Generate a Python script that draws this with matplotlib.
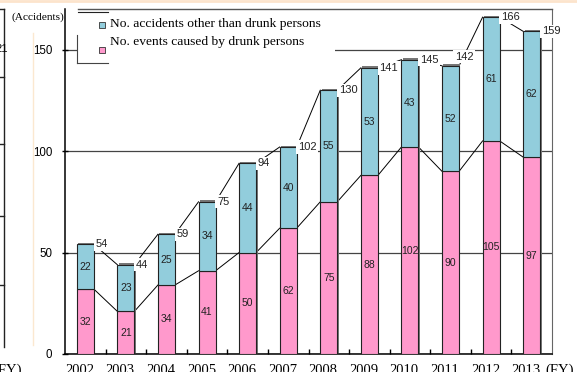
import numpy as np
import matplotlib.pyplot as plt
import matplotlib.patheffects as pe
from matplotlib.lines import Line2D
from matplotlib.patches import Rectangle
from matplotlib.transforms import ScaledTranslation

# data (FY 2002-2013)
years = ["2002", "2003", "2004", "2005", "2006", "2007",
         "2008", "2009", "2010", "2011", "2012", "2013"]
drunk = [32, 21, 34, 41, 50, 62, 75, 88, 102, 90, 105, 97]
other = [22, 23, 25, 34, 44, 40, 55, 53, 43, 52, 61, 62]
legend_labels = ["No. accidents other than drunk persons",
                 "No. events caused by drunk persons"]

blue = "#92CDDC"
pink = "#FF99CC"
SERIF = "Liberation Serif"
SANS = "Liberation Sans"

W, H = 577, 372
fig = plt.figure(figsize=(W / 100, H / 100), dpi=100)


def fx(x):
    return x / W


def fy(y):
    return 1 - y / H


def fline(xs, ys, **kw):
    fig.add_artist(Line2D([fx(v) for v in xs], [fy(v) for v in ys],
                          transform=fig.transFigure, **kw))


ax = fig.add_axes([fx(65), fy(354), fx(552) - fx(65), fy(9) - fy(354)])

x = np.arange(len(years))
w = 0.42
total = [d + o for d, o in zip(drunk, other)]
shadow = [pe.SimplePatchShadow(offset=(1.0, 1.0), shadow_rgbFace="#777777", alpha=1),
          pe.Normal()]

ax.bar(x, drunk, w, color=pink, edgecolor="#222222", lw=0.8, zorder=3,
       path_effects=shadow)
ax.bar(x, other, w, bottom=drunk, color=blue, edgecolor="#222222", lw=0.8,
       zorder=3, path_effects=shadow)

# series lines between the bars
for i in range(len(x) - 1):
    for tops in (drunk, total):
        ax.plot([x[i] + w / 2, x[i + 1] - w / 2], [tops[i], tops[i + 1]],
                color="black", lw=0.7, zorder=2)

# segment labels
for i in x:
    ax.text(i, drunk[i] / 2, str(drunk[i]), ha="center", va="center",
            fontsize=7.5, family=SANS, color="#222222", zorder=5)
    ax.text(i, drunk[i] + other[i] / 2, str(other[i]), ha="center", va="center",
            fontsize=7.5, family=SANS, color="#222222", zorder=5)

# totals
for i in x:
    dx, dy = 1.0, 0
    if i == 9:
        dx, dy = -3, 6.5
    ax.annotate(str(total[i]), (i + w / 2, total[i]), xytext=(dx, dy),
                textcoords="offset points", ha="left", va="center",
                fontsize=8, family=SANS, color="#222222", zorder=6,
                bbox=dict(fc="white", ec="none", pad=1.2))

ax.set_xlim(-0.5, len(x) - 0.5)
ax.set_ylim(0, 170)
ax.set_yticks([0, 50, 100, 150])
ax.yaxis.grid(True, color="#444444", lw=0.9)
ax.set_axisbelow(True)
ax.tick_params(axis="y", direction="inout", length=4, width=1, pad=7,
               labelsize=8.3)
for lab in ax.get_yticklabels():
    lab.set_family(SANS)

ax.set_xticks(x)
ax.set_xticklabels(years, fontsize=10.5, family=SERIF)
ax.set_xticks(np.arange(0.5, len(x) - 1, 1), minor=True)
ax.tick_params(axis="x", which="major", length=0, pad=7.5)
ax.tick_params(axis="x", which="minor", direction="in", length=3.5, width=1)
for lab in ax.get_xticklabels():
    lab.set_transform(lab.get_transform() +
                      ScaledTranslation(-4 / 72, 0, fig.dpi_scale_trans))

ax.spines["top"].set_visible(False)
ax.spines["right"].set_color("#666666")
ax.spines["left"].set_linewidth(1.1)
ax.spines["bottom"].set_linewidth(1.1)

# legend block
fig.add_artist(Rectangle((fx(78), fy(63)), fx(335) - fx(78), fy(10) - fy(63),
                         transform=fig.transFigure, fc="white", ec="none",
                         zorder=5))
fline([78, 552], [9, 9], color="#555555", lw=1, zorder=6)
fline([78, 108], [12, 12], color="#222222", lw=0.8, zorder=6)
fline([77, 77], [35, 63], color="#444444", lw=0.8, zorder=6)
fline([77, 108], [63, 63], color="#444444", lw=0.8, zorder=6)
for lab, col, ty, my in [(legend_labels[0], blue, 24, 25),
                         (legend_labels[1], pink, 42, 50)]:
    fig.add_artist(Rectangle((fx(99), fy(my + 3)), fx(6), 6 / H,
                             transform=fig.transFigure, fc=col, ec="#333333",
                             lw=0.6, zorder=7))
    fig.text(fx(110), fy(ty), lab, ha="left", va="center", fontsize=9.7,
             family=SERIF, zorder=7)

fig.text(fx(12), fy(17), "(Accidents)", ha="left", va="center", fontsize=8.2,
         family=SERIF)
fig.text(fx(545), fy(364), "(FY)", ha="left", va="top", fontsize=10.5,
         family=SERIF)

# edge of the neighbouring chart on the page
fline([0, W], [1, 1], color="#FCE4CC", lw=2)
fline([33, 33], [33, 345], color="#FBE8D0", lw=1)
fline([3.5, 3.5], [9, 347], color="#222222", lw=1)
fline([0, 3.5], [9, 9], color="#222222", lw=1)
for ty in [77, 144, 216, 285]:
    fline([0, 3.5], [ty, ty], color="#222222", lw=1)
fig.text(fx(7.5), fy(49), "21", ha="right", va="center", fontsize=8,
         family=SANS)
fig.text(fx(22), fy(364), "(FY)", ha="right", va="top", fontsize=10.5,
         family=SERIF)

fig.savefig("out.png", dpi=100)
